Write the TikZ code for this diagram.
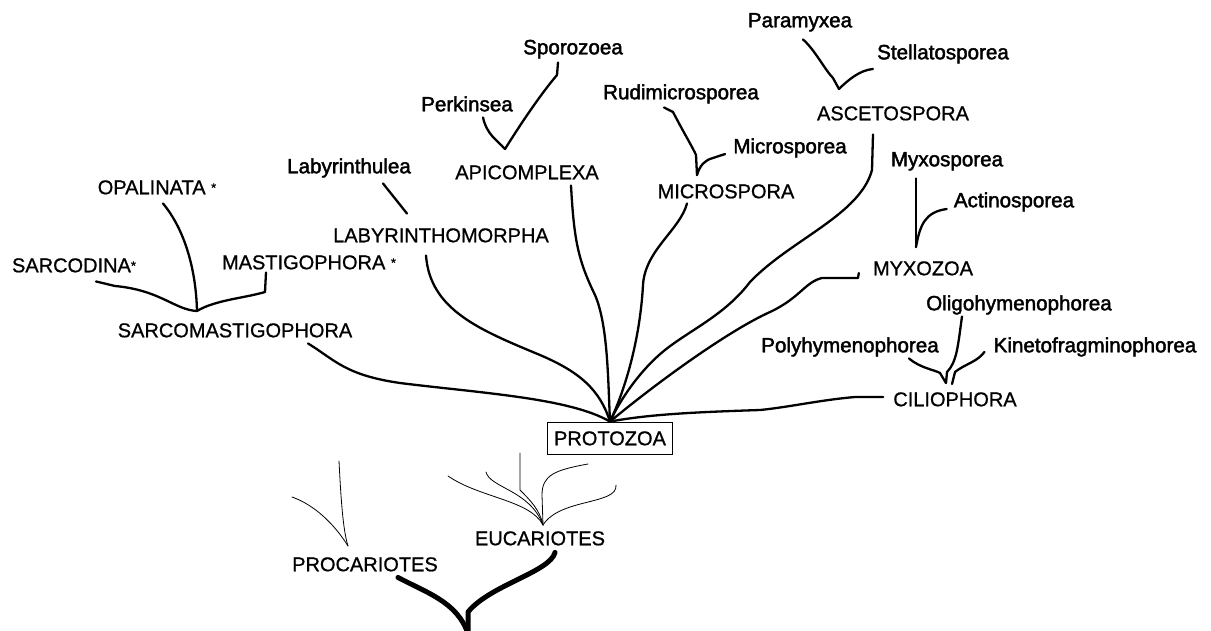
\documentclass[tikz,border=0pt]{standalone}
\usepackage{fontspec}
\setmainfont{Liberation Sans}
\newfontfamily\subfont[FakeBold=2]{Liberation Sans}
\newfontfamily\capfont[FakeBold=0.8]{Liberation Sans}
\usetikzlibrary{positioning}
\newcommand{\astmark}{\raisebox{2pt}{\fontsize{13}{13}\selectfont *}}

\begin{document}
\begin{tikzpicture}[
  x=1pt, y=-1pt,
  taxon/.style={inner sep=0pt, text height=14.5pt, text depth=0pt, font=\capfont\fontsize{20}{22}\selectfont},
  subtaxon/.style={taxon, font=\subfont\fontsize{20.6}{22}\selectfont},
  rootbox/.style={taxon, draw, line width=0.8pt, inner xsep=6.5pt, inner ysep=8.75pt},
  br/.style={line width=2.3pt, line join=round, line cap=round},
  twig/.style={line width=0.8pt, line cap=round},
  trunk/.style={line width=5pt, line join=round, line cap=round}
]
\useasboundingbox (0,0) rectangle (1211,630);

% labels
\node[subtaxon] (sporo) at (573,47) {Sporozoea};
\node[subtaxon] (para) at (800,20) {Paramyxea};
\node[subtaxon] (stell) at (943,52) {Stellatosporea};
\node[subtaxon] (perk) at (467,104) {Perkinsea};
\node[subtaxon] (rudi) at (681,92) {Rudimicrosporea};
\node[subtaxon] (mcsp) at (790,146) {Microsporea};
\node[subtaxon] (labyl) at (349,166) {Labyrinthulea};
\node[subtaxon] (myxs) at (947,159) {Myxosporea};
\node[subtaxon] (actino) at (1014,200) {Actinosporea};
\node[subtaxon] (oligo) at (1019,303) {Oligohymenophorea};
\node[subtaxon] (poly) at (850,345) {Polyhymenophorea};
\node[subtaxon] (kineto) at (1095,345) {Kinetofragminophorea};

\node[taxon] (asce) at (893,113) {ASCETOSPORA};
\node[taxon] (apic) at (527,172) {APICOMPLEXA};
\node[taxon] (micro) at (726,191) {MICROSPORA};
\node[taxon] (opal) at (157,187) {OPALINATA \astmark};
\node[taxon] (labym) at (441,235) {LABYRINTHOMORPHA};
\node[taxon] (sarcod) at (74,265) {SARCODINA\astmark};
\node[taxon] (mastigo) at (309,262) {MASTIGOPHORA \astmark};
\node[taxon] (myxz) at (923,268) {MYXOZOA};
\node[taxon] (sarco) at (235,330) {SARCOMASTIGOPHORA};
\node[taxon] (cilio) at (955,399) {CILIOPHORA};
\node[rootbox] (proto) at (610,438) {PROTOZOA};
\node[taxon] (euc) at (540,538) {EUCARIOTES};
\node[taxon] (proc) at (365,564) {PROCARIOTES};

% forks
\coordinate (sarcofork) at (197,311);
\coordinate (apifork) at (505,149);
\coordinate (microfork) at (697,175);
\coordinate (ascefork) at (839,89);
\coordinate (myxofork) at (916,247);
\coordinate (cilifork) at (946,383);
\coordinate (eufork) at (543,525);
\coordinate (profork) at (348,546);
\coordinate (root) at (468,634);

% Sarcomastigophora
\draw[br] ([xshift=6pt,yshift=-9pt]opal.south) .. controls (185,230) and (196,270) .. (sarcofork);
\draw[br] ([xshift=22pt,yshift=-9pt]sarcod.south) -- (115,286) .. controls (160,290) and (175,310) .. (sarcofork);
\draw[br] (sarcofork) .. controls (215,300) and (245,298) .. (265,292) -- ([xshift=-43pt,yshift=-3pt]mastigo.south);
\draw[br] ([xshift=73pt,yshift=-6pt]sarco.south) .. controls (335,360) and (345,375) .. (400,383) .. controls (480,393) and (570,398) .. (proto.north);

% Labyrinthomorpha
\draw[br] ([xshift=34pt,yshift=-10pt]labyl.south) -- ([xshift=-34pt,yshift=14pt]labym.north);
\draw[br] ([xshift=-15pt,yshift=-13pt]labym.south) .. controls (430,310) and (480,330) .. (540,355) .. controls (580,372) and (600,390) .. (proto.north);

% Apicomplexa
\draw[br] ([xshift=16pt,yshift=-6pt]perk.south) .. controls (487,135) and (497,140) .. (apifork);
\draw[br] (apifork) .. controls (520,125) and (540,95) .. (557,75) -- ([xshift=-15pt,yshift=-8pt]sporo.south);
\draw[br] ([xshift=44pt,yshift=-6pt]apic.south) .. controls (574,240) and (578,260) .. (595,295) .. controls (608,325) and (608,380) .. (proto.north);

% Microspora
\draw[br] ([xshift=-17pt,yshift=-8pt]rudi.south) -- (673,112) .. controls (685,135) and (693,148) .. (696,155) -- (microfork);
\draw[br] (microfork) .. controls (700,165) and (705,160) .. (713,158) -- ([xshift=-8pt,yshift=-8pt]mcsp.west);
\draw[br] ([xshift=-39pt,yshift=-5pt]micro.south) .. controls (680,230) and (645,250) .. (643,285) .. controls (640,340) and (625,390) .. (proto.north);

% Ascetospora
\draw[br] ([xshift=3pt,yshift=-12pt]para.south) .. controls (815,50) and (825,70) .. (833,78) -- (ascefork);
\draw[br] (ascefork) .. controls (848,80) and (860,70) .. ([xshift=-4pt,yshift=-17pt]stell.west);
\draw[br] ([xshift=-20pt,yshift=-14pt]asce.south) -- (872,170) .. controls (860,215) and (790,240) .. (750,282) .. controls (725,315) and (690,330) .. (665,350) .. controls (640,370) and (620,400) .. (proto.north);

% Myxozoa
\draw[br] ([xshift=-31pt,yshift=-12pt]myxs.south) -- (myxofork);
\draw[br] (myxofork) .. controls (920,225) and (925,212) .. ([xshift=-7pt,yshift=-9pt]actino.west);
\draw[br] ([xshift=-14pt,yshift=-5pt]myxz.west) -- (858,278) -- (822,278) .. controls (805,282) and (800,298) .. (770,312) .. controls (730,330) and (660,380) .. (proto.north);

% Ciliophora
\draw[br] ([xshift=59pt,yshift=-6pt]poly.south) .. controls (920,368) and (935,370) .. (940,373) -- (cilifork);
\draw[br] (cilifork) -- (947,372) .. controls (957,362) and (958,345) .. ([xshift=-57pt,yshift=-6pt]oligo.south);
\draw[br] ([xshift=6pt,yshift=-1pt]cilifork) -- (955,372) .. controls (965,364) and (977,362) .. ([xshift=-9pt,yshift=-7pt]kineto.west);
\draw[br] ([xshift=-10pt,yshift=2pt]cilio.west) -- (855,397) .. controls (820,400) and (790,407) .. (760,410) .. controls (700,412) and (650,414) .. (proto.north);

% Procariotes / Eucariotes
\coordinate (pt1) at (339,461);
\coordinate (pt2) at (292,497);
\coordinate (et1) at (448,476);
\coordinate (et2) at (486,472);
\coordinate (et3) at (520,453);
\coordinate (et4) at (588,464);
\coordinate (et5) at (616,485);
\draw[twig] (pt1) .. controls (341,500) and (343,530) .. (profork);
\draw[twig] (pt2) .. controls (315,505) and (335,525) .. (profork);
\draw[twig] (et1) .. controls (480,498) and (530,500) .. (eufork);
\draw[twig] (et2) .. controls (490,488) and (530,490) .. (eufork);
\draw[twig] (et3) -- (520,490) .. controls (530,500) and (540,510) .. (eufork);
\draw[twig] (et4) .. controls (555,470) and (542,475) .. (542,495) -- (eufork);
\draw[twig] (et5) .. controls (618,505) and (560,498) .. (eufork);

\draw[trunk] ([xshift=15pt,yshift=-7pt]euc.south) .. controls (550,572) and (490,585) .. (468,612) -- (root);
\draw[trunk] ([xshift=33pt,yshift=-6pt]proc.south) .. controls (425,592) and (458,602) .. (root);
\end{tikzpicture}
\end{document}
